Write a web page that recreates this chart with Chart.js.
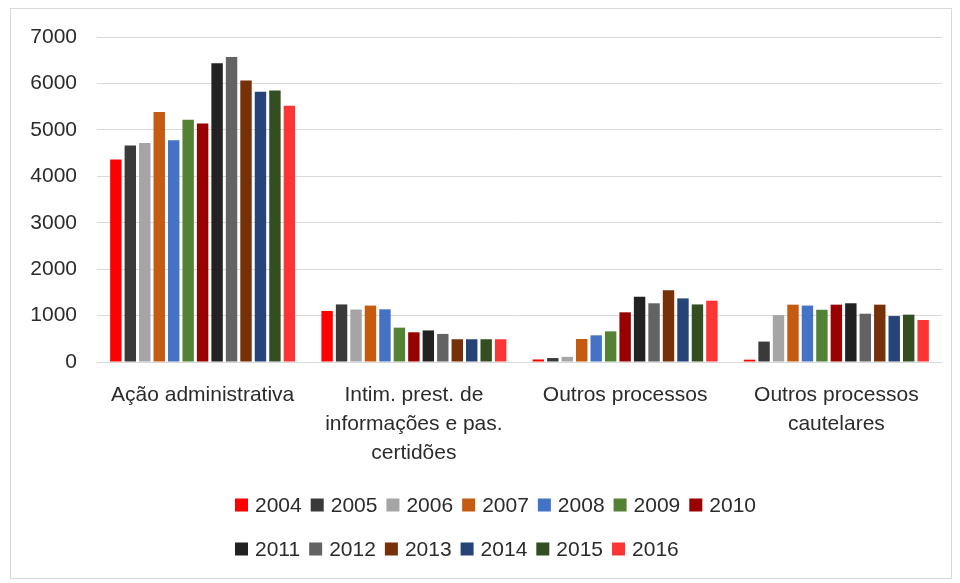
<!DOCTYPE html>
<html>
<head>
<meta charset="utf-8">
<script src="https://cdn.jsdelivr.net/npm/chart.js@4/dist/chart.umd.min.js"></script>
<style>
  html, body { margin: 0; padding: 0; background: #fff; }
  #wrap { width: 960px; height: 583px; position: relative; }
</style>
</head>
<body>
<div id="wrap"><canvas id="chart"></canvas></div>
<script>
// categories (multi-line labels like the original)
const categories = [
  "Ação administrativa",
  ["Intim. prest. de", "informações e pas.", "certidões"],
  "Outros processos",
  ["Outros processos", "cautelares"]
];

const years = ["2004", "2005", "2006", "2007", "2008", "2009", "2010",
               "2011", "2012", "2013", "2014", "2015", "2016"];

// one array per year, in category order
const s2004 = [4360, 1100, 55, 50];
const s2005 = [4665, 1240, 85, 440];
const s2006 = [4715, 1130, 110, 1010];
const s2007 = [5385, 1215, 495, 1235];
const s2008 = [4775, 1135, 575, 1215];
const s2009 = [5220, 740, 660, 1125];
const s2010 = [5135, 640, 1070, 1235];
const s2011 = [6435, 680, 1405, 1265];
const s2012 = [6570, 605, 1265, 1040];
const s2013 = [6065, 490, 1545, 1235];
const s2014 = [5820, 490, 1370, 990];
const s2015 = [5850, 490, 1240, 1020];
const s2016 = [5520, 490, 1320, 905];

const yMax = 7000;
const yStep = 1000;

const series = [s2004, s2005, s2006, s2007, s2008, s2009, s2010,
                s2011, s2012, s2013, s2014, s2015, s2016];
const colors = ["#ff0000", "#3a3a3a", "#a5a5a5", "#c55a11", "#4472c4", "#548235", "#990000",
                "#222222", "#636363", "#763108", "#264478", "#334f21", "#ff3535"];

const FONT = '"Liberation Sans", Arial, sans-serif';
const textColor = "#2b2b2b";

// legend drawn by hand so the second row starts under the first
const legendPlugin = {
  id: "rowsLegend",
  afterDraw(chart) {
    const ctx = chart.ctx;
    const rows = [[0, 1, 2, 3, 4, 5, 6], [7, 8, 9, 10, 11, 12]];
    ctx.save();
    ctx.font = "21px " + FONT;
    ctx.textBaseline = "middle";
    ctx.textAlign = "left";
    rows.forEach((row, r) => {
      let x = 235;
      const y = 505 + r * 44;
      row.forEach(i => {
        const ds = chart.data.datasets[i];
        ctx.fillStyle = ds.backgroundColor;
        ctx.fillRect(x, y - 6.5, 13, 13);
        ctx.fillStyle = textColor;
        ctx.fillText(ds.label, x + 20, y + 1);
        x += 20 + ctx.measureText(ds.label).width + 9;
      });
    });
    ctx.restore();
  }
};

// outer frame around the chart
const framePlugin = {
  id: "frame",
  beforeDraw(chart) {
    const ctx = chart.ctx;
    ctx.save();
    ctx.fillStyle = "#fff";
    ctx.fillRect(0, 0, chart.width, chart.height);
    ctx.strokeStyle = "#d9d9d9";
    ctx.lineWidth = 1;
    ctx.strokeRect(10.5, 8.5, 941, 570);
    ctx.restore();
  }
};

const ctx = document.getElementById("chart").getContext("2d");
new Chart(ctx, {
  type: "bar",
  data: {
    labels: categories,
    datasets: years.map((y, i) => ({
      label: y,
      data: series[i],
      backgroundColor: colors[i],
      categoryPercentage: 0.89,
      barPercentage: 0.79
    }))
  },
  options: {
    responsive: true,
    maintainAspectRatio: false,
    animation: false,
    layout: { padding: { top: 37, right: 18, left: 0, bottom: 0 } },
    plugins: {
      legend: { display: false },
      tooltip: { enabled: false }
    },
    scales: {
      x: {
        grid: { display: false },
        border: { display: false },
        ticks: {
          color: textColor,
          font: { family: FONT, size: 21, lineHeight: 1.38 },
          padding: 11,
          maxRotation: 0,
          autoSkip: false
        },
        afterFit: s => { s.height = 221; }
      },
      y: {
        min: 0,
        max: yMax,
        grid: { color: "#d9d9d9", lineWidth: 1, drawTicks: false },
        border: { display: false },
        ticks: {
          stepSize: yStep,
          color: textColor,
          font: { family: FONT, size: 21 },
          padding: 20,
          callback: v => String(v)
        },
        afterFit: s => { s.width = 97; }
      }
    }
  },
  plugins: [framePlugin, legendPlugin]
});
</script>
</body>
</html>
